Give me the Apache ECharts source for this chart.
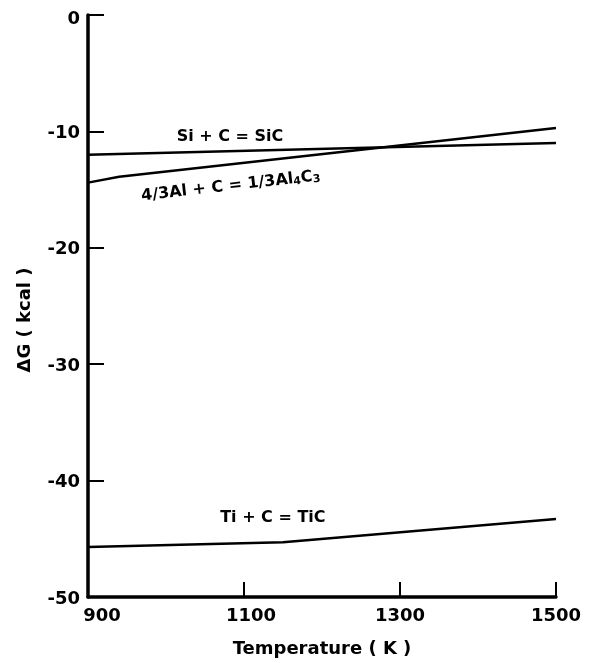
<!DOCTYPE html>
<html>
<head>
<meta charset="utf-8">
<script src="https://cdn.jsdelivr.net/npm/echarts@6/dist/echarts.min.js"></script>
<style>
html, body { margin: 0; padding: 0; background: #fff; }
#chart { width: 597px; height: 663px; }
</style>
</head>
<body>
<div id="chart"></div>
<script>
// values: temperature (K) and ΔG (kcal)
var siTemp = [900, 1500];
var siDG = [-12.0, -11.0];
var alTemp = [900, 940, 1500];
var alDG = [-14.4, -13.9, -9.7];
var tiTemp = [900, 1150, 1500];
var tiDG = [-45.7, -45.3, -43.3];

var xTicks = [900, 1100, 1300, 1500];
var yTicks = [0, -10, -20, -30, -40, -50];

var FONT = '"DejaVu Sans", "Liberation Sans", sans-serif';

function pairs(xs, ys) {
  return xs.map(function (x, i) { return [x, ys[i]]; });
}

function lineSeries(name, xs, ys) {
  return {
    name: name,
    type: 'line',
    data: pairs(xs, ys),
    showSymbol: false,
    silent: true,
    lineStyle: { color: '#000', width: 2.5 }
  };
}

function txt(extra) {
  var s = { fontFamily: FONT, fontWeight: 'bold', fontSize: 18, color: '#000' };
  for (var k in extra) s[k] = extra[k];
  return s;
}

var chart = echarts.init(document.getElementById('chart'));

chart.setOption({
  animation: false,
  backgroundColor: '#fff',
  grid: { left: 88, right: 41, top: 15, bottom: 65, containLabel: false },
  xAxis: {
    type: 'value',
    min: xTicks[0],
    max: xTicks[xTicks.length - 1],
    interval: 200,
    name: 'Temperature ( K )',
    nameLocation: 'middle',
    nameGap: 43,
    nameTextStyle: txt({}),
    axisLine: { show: true, onZero: false, lineStyle: { color: '#000', width: 3.5 } },
    axisTick: { show: true, inside: true, length: 15, lineStyle: { color: '#000', width: 2 } },
    splitLine: { show: false },
    axisLabel: {
      margin: 10,
      color: '#000',
      fontFamily: FONT,
      fontWeight: 'bold',
      fontSize: 18,
      // the first two labels sit a little right of their ticks
      formatter: function (v) {
        if (v === 900) return '{a|' + v + '}';
        if (v === 1100) return '{b|' + v + '}';
        return '{c|' + v + '}';
      },
      rich: {
        a: txt({ padding: [0, 0, 0, 28] }),
        b: txt({ padding: [0, 0, 0, 14] }),
        c: txt({})
      }
    }
  },
  yAxis: {
    type: 'value',
    min: yTicks[yTicks.length - 1],
    max: yTicks[0],
    interval: 10,
    name: 'ΔG ( kcal )',
    nameLocation: 'middle',
    nameRotate: 90,
    nameGap: 54,
    nameTextStyle: txt({ padding: [0, 28, 0, 0] }),
    axisLine: { show: true, onZero: false, lineStyle: { color: '#000', width: 3.5 } },
    axisTick: { show: true, inside: true, length: 16, lineStyle: { color: '#000', width: 2 } },
    splitLine: { show: false },
    axisLabel: {
      margin: 8,
      color: '#000',
      fontFamily: FONT,
      fontWeight: 'bold',
      fontSize: 18,
      formatter: function (v) {
        if (v === 0) return '{t|0}';
        return '{n|' + v + '}';
      },
      rich: {
        t: txt({ padding: [9, 0, 0, 0] }),
        n: txt({ padding: [4, 0, 0, 0] })
      }
    }
  },
  series: [
    lineSeries('Si + C = SiC', siTemp, siDG),
    lineSeries('4/3Al + C = 1/3Al4C3', alTemp, alDG),
    lineSeries('Ti + C = TiC', tiTemp, tiDG)
  ]
});

// reaction labels, anchored in data coordinates
var notes = [
  { text: 'Si + C = SiC', at: [1082, -10.45], rot: 0 },
  { text: '4/3Al + C = 1/3Al{s|4}C{s|3}', at: [1083, -14.7], rot: 6.5 },
  { text: 'Ti + C = TiC', at: [1137, -43.2], rot: 0 }
];

chart.setOption({
  graphic: notes.map(function (n) {
    var p = chart.convertToPixel({ gridIndex: 0 }, n.at);
    return {
      type: 'text',
      x: p[0],
      y: p[1],
      rotation: n.rot * Math.PI / 180,
      silent: true,
      style: {
        text: n.text,
        fill: '#000',
        fontFamily: FONT,
        fontWeight: 'bold',
        fontSize: 16,
        align: 'center',
        verticalAlign: 'middle',
        rich: {
          s: { fontFamily: FONT, fontWeight: 'bold', fontSize: 11, fill: '#000', verticalAlign: 'bottom', padding: [6, 0, 0, 0] }
        }
      }
    };
  })
});
</script>
</body>
</html>
